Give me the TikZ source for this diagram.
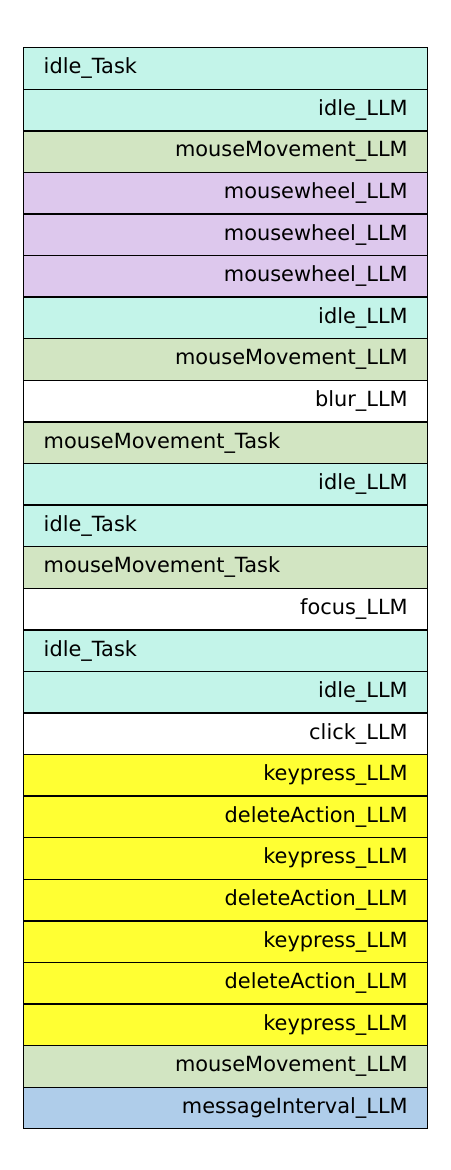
\documentclass[tikz,border=0pt]{standalone}
\usepackage{fontspec}
\setmainfont{DejaVu Sans}
\definecolor{idlecyan}{RGB}{195,244,233}
\definecolor{movegreen}{RGB}{210,229,194}
\definecolor{wheelpurple}{RGB}{221,200,237}
\definecolor{keyyellow}{RGB}{255,255,51}
\definecolor{intervalblue}{RGB}{175,205,234}

\begin{document}
\begin{tikzpicture}[x=1pt,y=1pt,
    slot/.style={draw, line width=1.4pt, minimum width=404pt, minimum height=41.58pt,
      text width=364pt, inner xsep=20pt, inner ysep=0pt, anchor=north west,
      font=\fontsize{20.9}{24}\selectfont},
    task/.style={slot, align=left},
    llm/.style={slot, align=right}]
    \useasboundingbox (0,0) rectangle (450,-1170);

    % event sequence, one row per step
    \foreach \i/\lbl/\col/\side in {
        1/idle\_Task/idlecyan/task,
        2/idle\_LLM/idlecyan/llm,
        3/mouseMovement\_LLM/movegreen/llm,
        4/mousewheel\_LLM/wheelpurple/llm,
        5/mousewheel\_LLM/wheelpurple/llm,
        6/mousewheel\_LLM/wheelpurple/llm,
        7/idle\_LLM/idlecyan/llm,
        8/mouseMovement\_LLM/movegreen/llm,
        9/blur\_LLM/white/llm,
        10/mouseMovement\_Task/movegreen/task,
        11/idle\_LLM/idlecyan/llm,
        12/idle\_Task/idlecyan/task,
        13/mouseMovement\_Task/movegreen/task,
        14/focus\_LLM/white/llm,
        15/idle\_Task/idlecyan/task,
        16/idle\_LLM/idlecyan/llm,
        17/click\_LLM/white/llm,
        18/keypress\_LLM/keyyellow/llm,
        19/deleteAction\_LLM/keyyellow/llm,
        20/keypress\_LLM/keyyellow/llm,
        21/deleteAction\_LLM/keyyellow/llm,
        22/keypress\_LLM/keyyellow/llm,
        23/deleteAction\_LLM/keyyellow/llm,
        24/keypress\_LLM/keyyellow/llm,
        25/mouseMovement\_LLM/movegreen/llm,
        26/messageInterval\_LLM/intervalblue/llm} {
        \node[\side, fill=\col] (step\i) at (23,{-47-(\i-1)*41.58}) {\lbl};
    }
\end{tikzpicture}
\end{document}
